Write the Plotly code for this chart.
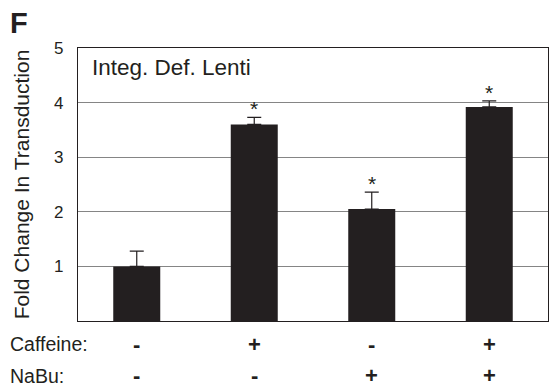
import plotly.graph_objects as go

conditions = ["Ctrl", "Caf", "NaBu", "Caf+NaBu"]
caffeine = ["-", "+", "-", "+"]
nabu = ["-", "-", "+", "+"]
fold_change = [1.0, 3.6, 2.05, 3.92]
error_up = [0.28, 0.13, 0.31, 0.11]
significant = [False, True, True, True]

font_family = "Liberation Sans, Arial, Helvetica, sans-serif"
ink = "#231f20"

fig = go.Figure()
fig.add_trace(go.Bar(
    x=conditions,
    y=fold_change,
    width=0.4,
    marker=dict(color=ink, line=dict(width=0)),
    error_y=dict(type="data", symmetric=False, array=error_up,
                 arrayminus=[0] * len(error_up),
                 color=ink, thickness=1.2, width=7),
    showlegend=False,
))

# significance stars above the error bars
for c, v, e, s in zip(conditions, fold_change, error_up, significant):
    if s:
        fig.add_annotation(x=c, y=v + e, text="*", showarrow=False,
                           yanchor="bottom", yshift=-5,
                           font=dict(size=21, color=ink, family=font_family))

# treatment rows beneath the axis
row_caf, row_nabu = -0.085, -0.2
for c, cf, nb in zip(conditions, caffeine, nabu):
    fig.add_annotation(x=c, y=row_caf, xref="x", yref="paper", yanchor="middle",
                       text=f"<b>{cf}</b>", showarrow=False,
                       font=dict(size=22, color=ink, family=font_family))
    fig.add_annotation(x=c, y=row_nabu, xref="x", yref="paper", yanchor="middle",
                       text=f"<b>{nb}</b>", showarrow=False,
                       font=dict(size=22, color=ink, family=font_family))

for label, yy in (("Caffeine:", row_caf), ("NaBu:", row_nabu)):
    fig.add_annotation(x=0, y=yy, xref="paper", yref="paper", xshift=-70,
                       xanchor="left", yanchor="middle",
                       text=label, showarrow=False,
                       font=dict(size=19.5, color=ink, family=font_family))

fig.add_annotation(x=0, y=1, xref="paper", yref="paper", xshift=12, yshift=-5,
                   xanchor="left", yanchor="top",
                   text="Integ. Def. Lenti", showarrow=False,
                   font=dict(size=22.5, color=ink, family=font_family))

fig.add_annotation(x=0, y=1, xref="paper", yref="paper", xshift=-70, yshift=43,
                   xanchor="left", yanchor="top",
                   text="<b>F</b>", showarrow=False,
                   font=dict(size=29, color=ink, family=font_family))

fig.update_layout(
    width=555, height=391,
    margin=dict(l=78, r=7, t=48, b=70),
    plot_bgcolor="white", paper_bgcolor="white",
    font=dict(family=font_family, color=ink),
)
fig.update_xaxes(showticklabels=False, ticks="", showline=True, linecolor=ink,
                 linewidth=1.2, mirror=True, showgrid=False)
fig.update_yaxes(range=[0, 5], tickvals=[1, 2, 3, 4, 5], showline=True,
                 linecolor=ink, linewidth=1.2, mirror=True,
                 showgrid=True, gridcolor="#858585", gridwidth=1.2, ticks="",
                 tickfont=dict(size=17), ticklabelstandoff=10,
                 title=dict(text="Fold Change In Transduction", font=dict(size=21), standoff=18),
                 zeroline=False)

fig.write_html("out.html")
